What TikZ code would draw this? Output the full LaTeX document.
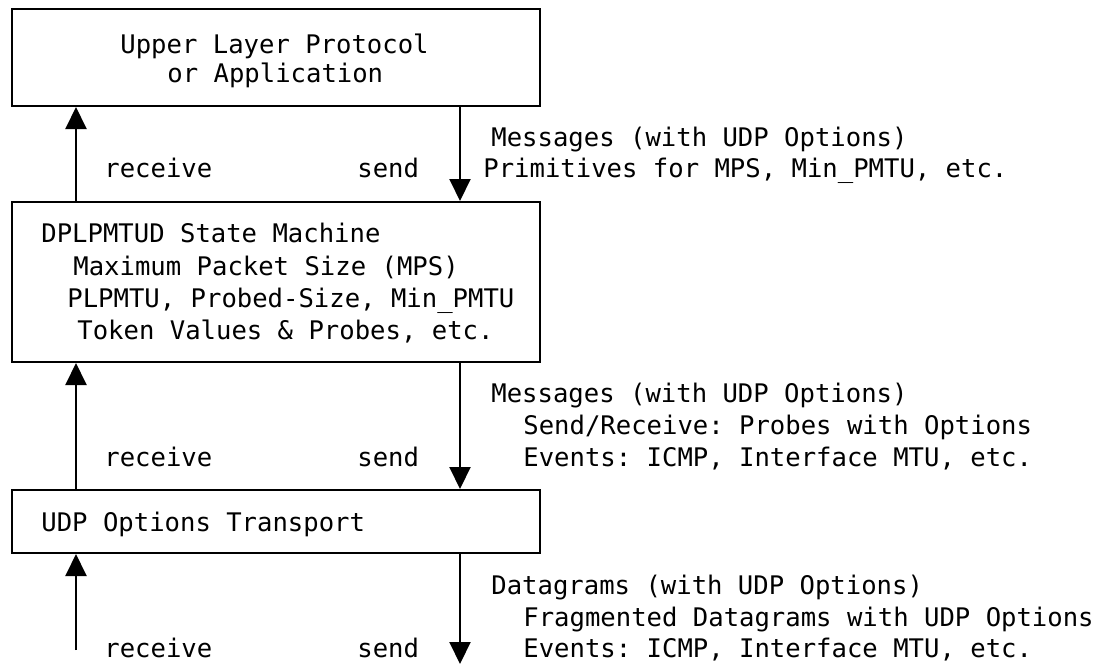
\documentclass[tikz,border=0pt]{standalone}
\usepackage{fontspec}
\setmonofont{DejaVu Sans Mono}
\usetikzlibrary{arrows.meta}
\tikzset{
  layer/.style={draw, line width=1pt, minimum width=264pt, inner sep=0pt},
  txt/.style={anchor=base west, inner sep=0pt, font=\ttfamily\fontsize{12.8}{16}\selectfont},
  flow/.style={line width=1pt, -{Triangle[width=10.5pt,length=11pt]}}
}
\begin{document}
\begin{tikzpicture}[x=0.5pt,y=-0.5pt]
    \useasboundingbox (0,0) rectangle (1101,664);
    \node[layer, minimum height=48.5pt] (upper) at (276,57.5){};
    \node[txt] (upper1) at (120,53){Upper Layer Protocol};
    \node[txt] (upper2) at (167,82){or Application};
    \node[layer, minimum height=80pt] (dplp) at (276,282){};
    \node[txt] (dplp1) at (41,242){DPLPMTUD State Machine};
    \node[txt] (dplp2) at (73,275){Maximum Packet Size (MPS)};
    \node[txt] (dplp3) at (67,307){PLPMTU, Probed-Size, Min\_PMTU};
    \node[txt] (dplp4) at (77,339){Token Values \& Probes, etc.};
    \node[layer, minimum height=31.5pt] (udpo) at (276,521.5){};
    \node[txt] (udpo1) at (41,531){UDP Options Transport};
    \coordinate (rx) at (76,0);
    \coordinate (sx) at (460,0);
    \coordinate (netin) at (76,650);
    \coordinate (netout) at (460,664);
    \draw[flow](dplp.north -| rx) -- (upper.south -| rx);
    \draw[flow](upper.south -| sx) -- (dplp.north -| sx);
    \draw[flow](udpo.north -| rx) -- (dplp.south -| rx);
    \draw[flow](dplp.south -| sx) -- (udpo.north -| sx);
    \draw[flow](netin) -- (udpo.south -| rx);
    \draw[flow](udpo.south -| sx) -- (netout);
    \node[txt] (rcv1) at (104,177){receive};
    \node[txt] (snd1) at (357,177){send};
    \node[txt] (msg1) at (491,146){Messages (with UDP Options)};
    \node[txt] (prim1) at (483,177){Primitives for MPS, Min\_PMTU, etc.};
    \node[txt] (rcv2) at (104,466){receive};
    \node[txt] (snd2) at (357,466){send};
    \node[txt] (msg2) at (491,402){Messages (with UDP Options)};
    \node[txt] (sr2) at (523,434){Send/Receive: Probes with Options};
    \node[txt] (ev2) at (523,466){Events: ICMP, Interface MTU, etc.};
    \node[txt] (rcv3) at (104,657){receive};
    \node[txt] (snd3) at (357,657){send};
    \node[txt] (dg3) at (491,594){Datagrams (with UDP Options)};
    \node[txt] (frag3) at (523,626){Fragmented Datagrams with UDP Options};
    \node[txt] (ev3) at (523,657){Events: ICMP, Interface MTU, etc.};
  \end{tikzpicture}
\end{document}
